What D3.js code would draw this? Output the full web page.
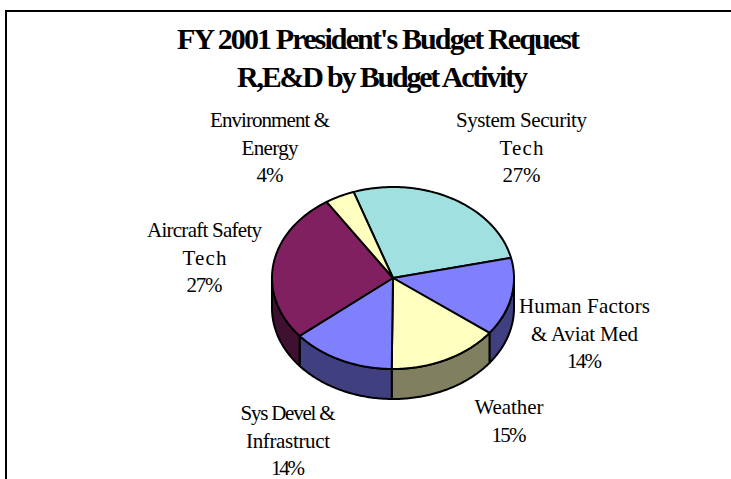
<!DOCTYPE html>
<html>
<head>
<meta charset="utf-8">
<script src="https://cdn.jsdelivr.net/npm/d3@7/dist/d3.min.js"></script>
<style>
html,body{margin:0;padding:0;background:#fff;}
svg{display:block;}
text{font-family:"Liberation Serif",serif;fill:#000;}
</style>
</head>
<body>
<svg id="chart" width="731" height="479"></svg>
<script>
const categories = ["System Security Tech","Human Factors & Aviat Med","Weather","Sys Devel & Infrastruct","Aircraft Safety Tech","Environment & Energy"];
const shares = [27,14,15,14,27,4];
const topColors = ["#A0E0E0","#8080FF","#FFFFC0","#8080FF","#802060","#FFFFC0"];
const sideColors = ["#507070","#404080","#808060","#404080","#401030","#808060"];
const labelLines = [
  ["System Security","Tech","27%"],
  ["Human Factors","& Aviat Med","14%"],
  ["Weather","15%"],
  ["Sys Devel &","Infrastruct","14%"],
  ["Aircraft Safety","Tech","27%"],
  ["Environment &","Energy","4%"]
];
const titleLines = ["FY 2001 President's Budget Request","R,E&D by Budget Activity"];

// layout of the text blocks: centre and first baseline, then set widths per line
const labelAnchors = [[521.5,127],[584.5,313],[509,414],[288,420],[204.5,237],[270,127]];
const labelWidths = [[131,44,38],[131,107,35],[69,35],[95,84,34],[115,44,36],[120,57,27]];
const titleCentres = [378.5,382.5];
const titleWidths = [403,291];

const W = 731, H = 479;
const cx = 393, cy = 278, rx = 121, ry = 91, depth = 30;
const svg = d3.select("#chart");

// chart frame: top and left edges only, both run off the page
svg.append("path")
  .attr("d", d3.line()([[6,H+5],[6,11],[W+5,11]]))
  .attr("fill","none").attr("stroke","#000").attr("stroke-width",2);

// titles
svg.selectAll("text.title").data(titleLines).join("text")
  .attr("class","title")
  .attr("x",(d,i)=>titleCentres[i]).attr("y",(d,i)=>49+i*38)
  .attr("text-anchor","middle")
  .attr("font-size",30).attr("font-weight","bold")
  .attr("textLength",(d,i)=>titleWidths[i])
  .attr("lengthAdjust","spacing")
  .text(d=>d);

// pie layout, kept in file order and rotated so the first wedge starts left of north
const startA = -19*Math.PI/180;
const pie = d3.pie().sort(null).startAngle(startA).endAngle(startA+2*Math.PI);
const arcs = pie(shares).map((a,i)=>({...a,i}));

const px = d3.scaleLinear().domain([-1,1]).range([cx-rx,cx+rx]);
const py = d3.scaleLinear().domain([-1,1]).range([cy-ry,cy+ry]);
const pt = (t,off=0)=>[px(Math.sin(t)),py(-Math.cos(t))+off];

// extruded rim: only the part of each wedge facing the viewer, east through south to west
const line = d3.line();
const frontFrom = Math.PI/2, frontTo = 3*Math.PI/2;
const rimG = svg.append("g");
arcs.forEach(a=>{
  const s = Math.max(a.startAngle,frontFrom), e = Math.min(a.endAngle,frontTo);
  if (e<=s) return;
  const ts = d3.range(0,61).map(k=>s+(e-s)*k/60);
  const outline = ts.map(t=>pt(t)).concat(ts.slice().reverse().map(t=>pt(t,depth)));
  rimG.append("path")
    .attr("d",line(outline)+"Z")
    .attr("fill",sideColors[a.i])
    .attr("stroke","#000").attr("stroke-width",2).attr("stroke-linejoin","round");
});

// top face
const topG = svg.append("g");
arcs.forEach(a=>{
  const ts = d3.range(0,81).map(k=>a.startAngle+(a.endAngle-a.startAngle)*k/80);
  const outline = [[px(0),py(0)]].concat(ts.map(t=>pt(t)));
  topG.append("path")
    .attr("d",line(outline)+"Z")
    .attr("fill",topColors[a.i])
    .attr("stroke","#000").attr("stroke-width",2).attr("stroke-linejoin","round");
});

// wedge labels
const labelG = svg.selectAll("g.lab").data(labelLines).join("g")
  .attr("class","lab")
  .attr("transform",(d,i)=>`translate(${labelAnchors[i][0]},${labelAnchors[i][1]})`)
  .attr("aria-label",(d,i)=>categories[i]);
labelG.each(function(lines,g){
  d3.select(this).selectAll("text").data(lines).join("text")
    .attr("y",(d,i)=>i*27.5)
    .attr("text-anchor","middle")
    .attr("font-size",21)
    .attr("textLength",(d,i)=>labelWidths[g][i])
    .attr("lengthAdjust","spacing")
    .text(d=>d);
});
</script>
</body>
</html>
